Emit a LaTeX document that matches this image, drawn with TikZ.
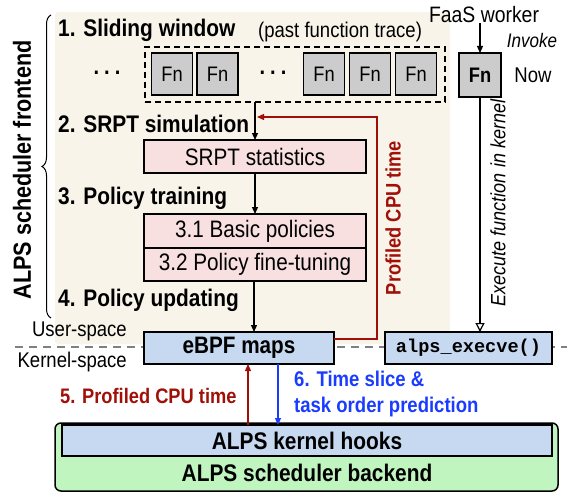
\documentclass[tikz,border=0pt]{standalone}
\usepackage{fontspec}
\setmainfont{Liberation Sans}[FakeStretch=0.87]
\setmonofont{Liberation Mono}
\usetikzlibrary{arrows.meta,decorations.pathreplacing,calc}
\definecolor{beige}{HTML}{F8F4EA}
\definecolor{fngray}{HTML}{CCCCCC}
\definecolor{pinkbox}{HTML}{F8E0E0}
\definecolor{bluebox}{HTML}{C6D9F0}
\definecolor{greenbox}{HTML}{C0F5C0}
\definecolor{darkred}{HTML}{A01008}
\definecolor{brightblue}{HTML}{1A3CFF}
\definecolor{dashgray}{HTML}{808080}
\newcommand{\myfs}[1]{\fontsize{#1}{#1}\selectfont}
\begin{document}
\begin{tikzpicture}[x=1pt,y=-1pt,
  box/.style={draw,line width=1.5pt,inner sep=0pt,outer sep=0pt},
  fnbox/.style={box,fill=fngray,minimum width=41pt,minimum height=42pt,font=\myfs{21}},
  pbox/.style={box,fill=pinkbox,minimum width=222pt,font=\myfs{23.8}},
  bbox/.style={box,fill=bluebox},
  head/.style={anchor=west,inner sep=0pt,font=\bfseries\myfs{24}},
  plain/.style={inner sep=0pt,font=\myfs{21.3}},
  arr/.style={line width=1.2pt,-{Triangle[length=7pt,width=6pt]}},
  redarr/.style={line width=1.2pt,draw=darkred,-{Triangle[length=7pt,width=6pt]}},
  bluearr/.style={line width=1.2pt,draw=brightblue,-{Triangle[length=7pt,width=6pt]}},
  dots/.style={inner sep=0pt,font=\bfseries\myfs{23}}
]
\useasboundingbox (0,0) rectangle (567,492);
% background
\fill[beige,rounded corners=3pt] (55,12) rectangle (450,344);
% user/kernel divider
\draw[dashgray,line width=1.6pt,dash pattern=on 8pt off 6pt] (15,347) -- (567,347);
% brace
\draw[line width=1pt,decorate,decoration={brace,amplitude=9pt,aspect=0.5}] (51,318) -- (51,15);
\node[inner sep=0pt,rotate=90,font=\bfseries\myfs{24.8}] (fe) at (22,170) {ALPS scheduler frontend};

% headings
\node[head] (h1) at (58,30) {1. Sliding window};
\node[plain,anchor=west] (trace) at (258,32) {(past function trace)};
\node[head] (h2) at (58,124) {2. SRPT simulation};
\node[head] (h3) at (58,198) {3. Policy training};
\node[head] (h4) at (58,300) {4. Policy updating};

% sliding window
\node[draw,line width=1.2pt,dash pattern=on 6pt off 4pt,inner sep=0pt,outer sep=0pt,minimum width=300pt,minimum height=55pt] (sw) at (295,74.5) {};
\node[dots] (d1) at (107,73) {.\hspace{5pt}.\hspace{5pt}.};
\node[fnbox] (f1) at (172,74) {Fn};
\node[fnbox] (f2) at (217.5,74) {Fn};
\node[dots] (d2) at (273,73) {.\hspace{5pt}.\hspace{5pt}.};
\node[fnbox] (f3) at (324,74) {Fn};
\node[fnbox] (f4) at (370,74) {Fn};
\node[fnbox] (f5) at (416,74) {Fn};

% FaaS worker side
\node[plain,font=\myfs{22.3}] (faas) at (484,15) {FaaS worker};
\node[plain,font=\itshape\myfs{19.6}] (inv) at (532,40) {Invoke};
\node[box,fill=fngray,line width=2.5pt,minimum width=42pt,minimum height=44pt,font=\bfseries\myfs{21}] (now) at (480,75) {Fn};
\node[plain] (nowl) at (533,75) {Now};

% pink boxes
\node[pbox,minimum height=33pt] (srpt) at (255,156.5) {SRPT statistics};
\node[pbox,minimum height=34pt] (p31) at (255,231) {3.1 Basic policies};
\node[pbox,minimum height=33pt] (p32) at (255,264.5) {3.2 Policy fine-tuning};

% labels space
\node[plain,anchor=east] (us) at (127,331) {User-space};
\node[plain,anchor=east] (ks) at (127,362) {Kernel-space};

% ebpf and execve
\node[bbox,minimum width=190pt,minimum height=32pt,font=\bfseries\myfs{23.8}] (ebpf) at (239,348) {eBPF maps};
\node[bbox,minimum width=167pt,minimum height=32pt,font=\ttfamily\bfseries\myfs{18.6}] (exe) at (468.5,348) {alps\_execve()};

% backend
\node[box,fill=greenbox,rounded corners=6pt,minimum width=503pt,minimum height=68pt] (be) at (306.5,457) {};
\node[bbox,minimum width=490pt,minimum height=31pt,font=\bfseries\myfs{24}] (hooks) at (307,440.5) {ALPS kernel hooks};
\node[inner sep=0pt,font=\bfseries\myfs{24}] (bel) at (307,473) {ALPS scheduler backend};

% rotated labels
\node[inner sep=0pt,rotate=90,font=\bfseries\myfs{21},text=darkred] (pct) at (393,218) {Profiled CPU time};
\node[inner sep=0pt,rotate=90,font=\itshape\myfs{20.7}] (exl) at (498,203) {Execute function in kernel};

% step 5 and 6 labels
\node[inner sep=0pt,anchor=west,font=\bfseries\myfs{21},text=darkred] (l5) at (60,396) {5. Profiled CPU time};
\node[inner sep=0pt,anchor=north west,align=left,font=\bfseries\fontsize{21.3}{26}\selectfont,text=brightblue] (l6) at (294,371) {6. Time slice \&\\task order prediction};

% connectors
\draw[arr] (srpt.north |- sw.south) -- (srpt.north);
\draw[arr] (srpt.south) -- (p31.north);
\coordinate (x4) at (254,0);
\draw[arr] (p32.south -| x4) -- (ebpf.north -| x4);
\draw[arr] (faas.south -| now.north) -- (now.north);
\draw[line width=1.2pt,-{Triangle[open,length=9pt,width=9pt,fill=white]}] (now.south) -- (exe.north -| now.south);

\coordinate (rc) at (377,339);
\coordinate (rend) at (257,117);
\draw[redarr] (ebpf.east |- rc) -- (rc) |- (rend);
\coordinate (x5) at (248,0);
\coordinate (x6) at (278,0);
\draw[redarr] (hooks.north -| x5) -- (ebpf.south -| x5);
\draw[bluearr] (ebpf.south -| x6) -- (hooks.north -| x6);
\end{tikzpicture}
\end{document}
